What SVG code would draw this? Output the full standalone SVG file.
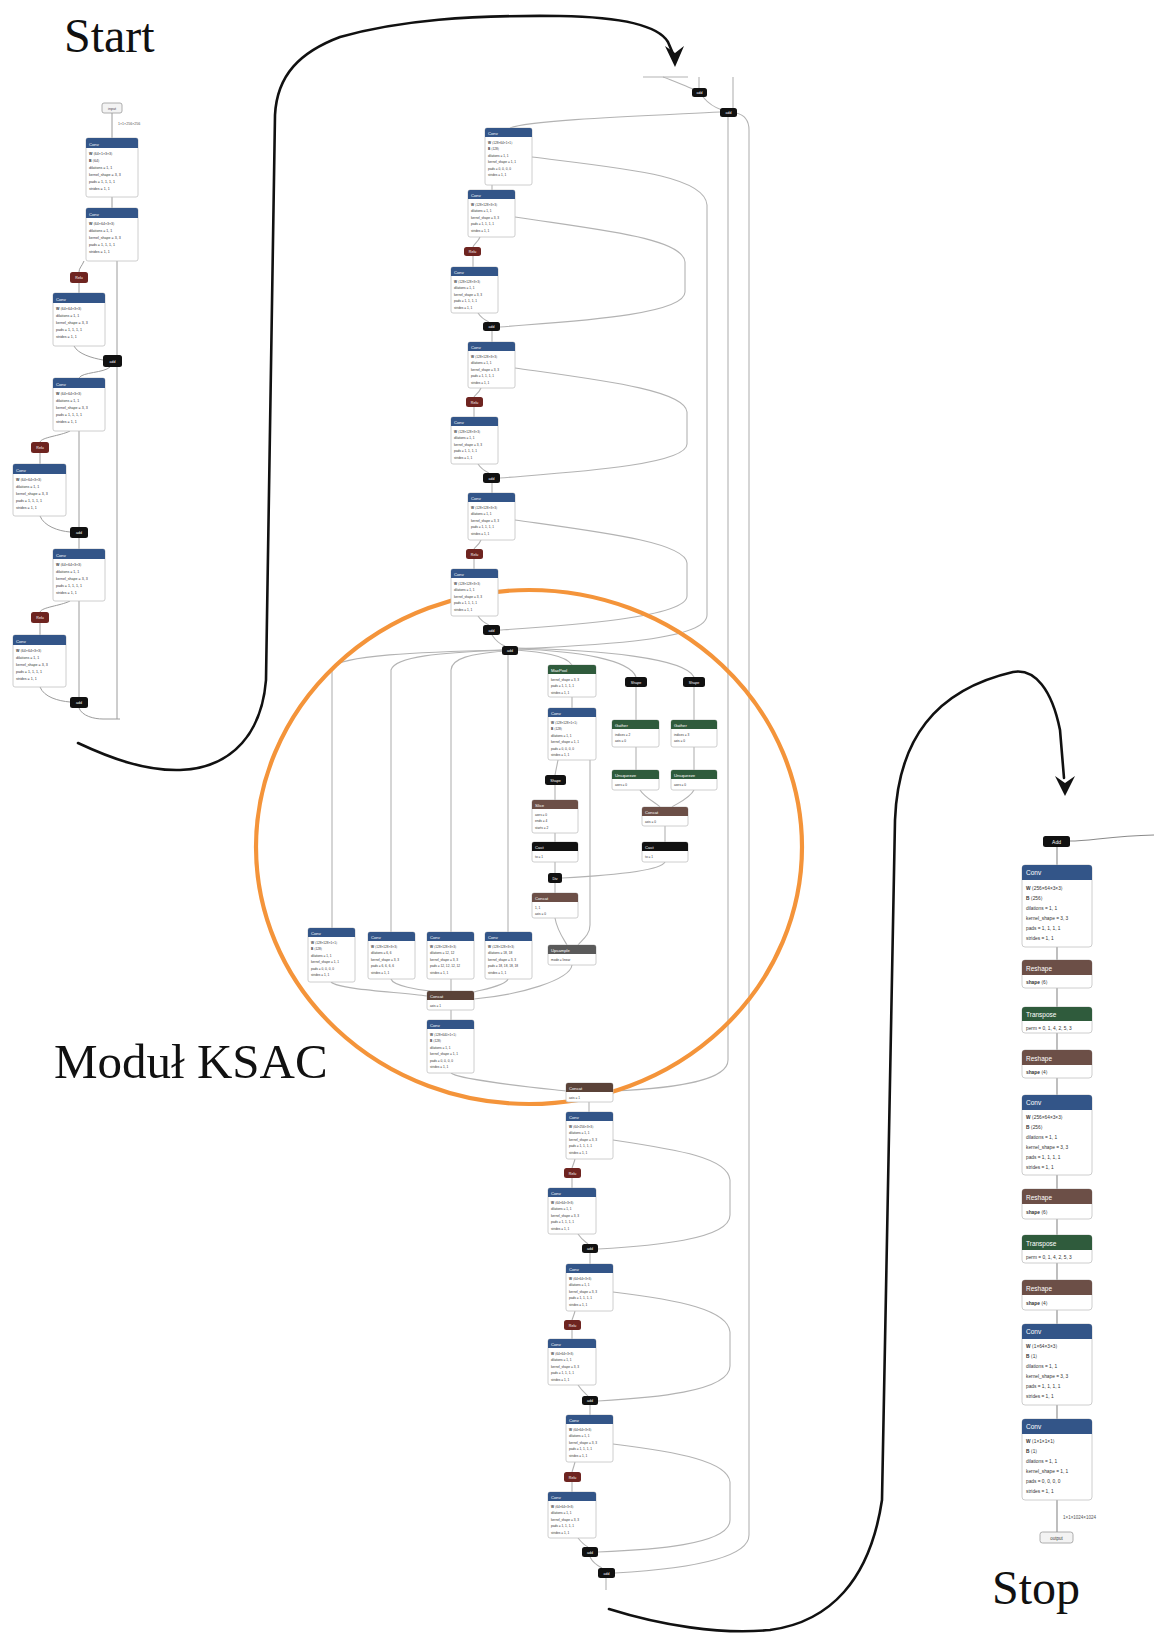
<svg xmlns="http://www.w3.org/2000/svg" width="1154" height="1633" viewBox="0 0 1154 1633">
<style>
.e{fill:none;stroke:#b3b3b3;stroke-width:1.1}
.eL{fill:none;stroke:#9c9c9c;stroke-width:1}
.eR{fill:none;stroke:#8a8a8a;stroke-width:1.1}
.bd{fill:#fff;stroke:#c2c2c2;stroke-width:.8}
.in{fill:#f3f3f3;stroke:#9a9a9a;stroke-width:.8}
.L{fill:#335588}.A{fill:#6e2420}.S{fill:#6c4f47}.T{fill:#2f5b3c}.D{fill:#111}.G{fill:#5a5a5a}.K{fill:#5a4238}
text{font-family:"Liberation Sans","DejaVu Sans",Arial,sans-serif}
.h{font-size:4.2px;fill:#fff}
.hc{font-size:3.6px;fill:#fff;text-anchor:middle}
.ct{font-size:3.6px;fill:#444;text-anchor:middle}
.b{font-size:3.2px;fill:#333}
.bL{font-size:3.6px;fill:#333}
.hR{font-size:6.5px;fill:#fff}
.bR{font-size:4.8px;fill:#333}
.el{font-size:3.6px;fill:#555}
.w{font-weight:bold}
.big{font-family:"Liberation Serif","Times New Roman",serif;font-size:48px;fill:#111}
.arr{fill:none;stroke:#111;stroke-width:2.6;stroke-linecap:round}
</style>

<!-- big labels -->
<text class="big" x="64" y="52">Start</text>
<text class="big" x="54" y="1078" style="font-size:49px">Moduł KSAC</text>
<text class="big" x="992" y="1604">Stop</text>

<!-- connectors -->
<g id="connectors">
<g class="eL">
<path d="M112,113V138"/>
<path d="M112,197V208"/>
<path d="M84,261C82,266 79,268 79,272"/>
<path d="M79,283V293"/>
<path d="M74,346C78,354 92,358 103,360"/>
<path d="M117,261V355"/>
<path d="M110,367C104,373 82,372 79,378"/>
<path d="M117,367V719"/>
<path d="M70,431C60,436 42,437 40,442"/>
<path d="M40,453V464"/>
<path d="M40,516C44,526 58,531 70,532"/>
<path d="M79,431V527"/>
<path d="M79,538V549"/>
<path d="M70,601C60,606 42,607 40,612"/>
<path d="M40,623V635"/>
<path d="M40,687C44,697 58,701 70,702"/>
<path d="M79,601V697"/>
<path d="M79,708C82,716 94,719 103,719H120"/>
</g>
<g class="e">
<path d="M643,77H688"/>
<path d="M663,77C672,80 685,86 693,89"/>
<path d="M699,77V88"/>
<path d="M733,77V108"/>
<path d="M703,97C708,103 716,108 722,110"/>
<path d="M720,112C640,116 530,120 510,128"/>
<path d="M728,117V1060C728,1080 680,1088 613,1091"/>
<path d="M736,113C745,115 749,120 749,130V1535C749,1556 700,1568 615,1573"/>
<path d="M532,157C620,168 705,175 707,205V615C707,640 600,645 518,649"/>
<path d="M492,185V190"/>
<path d="M480,237C478,242 474,244 473,247"/>
<path d="M473,256V267"/>
<path d="M478,313C482,319 487,321 489,322"/>
<path d="M515,217C600,230 683,238 685,262V292C685,316 560,322 500,327"/>
<path d="M492,331V342"/>
<path d="M481,388C479,393 475,395 474,397"/>
<path d="M474,407V417"/>
<path d="M478,464C482,470 487,472 489,473"/>
<path d="M515,368C600,380 685,390 687,412V444C687,466 560,473 500,478"/>
<path d="M492,483V493"/>
<path d="M481,540C479,545 475,547 474,549"/>
<path d="M474,559V569"/>
<path d="M478,616C482,622 487,624 489,625"/>
<path d="M515,520C600,532 685,542 687,563V596C687,618 560,626 500,630"/>
<path d="M492,635C496,641 502,645 505,646"/>
<path d="M503,650C420,652 340,655 332,668V928"/>
<path d="M504,650C440,653 395,656 391,670V932"/>
<path d="M505,651C470,654 452,658 451,670V932"/>
<path d="M508,655V932"/>
<path d="M516,650C540,652 566,655 572,665"/>
<path d="M517,649C580,651 630,660 636,677"/>
<path d="M517,648C600,650 685,658 694,677"/>
<path d="M572,697V708"/>
<path d="M558,760C557,765 556,770 555,775"/>
<path d="M555,785V800"/>
<path d="M555,833V842"/>
<path d="M555,862V873"/>
<path d="M555,883V893"/>
<path d="M555,918C557,930 563,938 567,945"/>
<path d="M590,760V925C590,935 582,940 578,945"/>
<path d="M636,687V720"/>
<path d="M694,687V720"/>
<path d="M636,747V770"/>
<path d="M694,747V770"/>
<path d="M640,790C645,798 655,802 660,807"/>
<path d="M694,790C690,798 678,803 672,807"/>
<path d="M665,826V842"/>
<path d="M665,862C660,872 600,876 562,878"/>
<path d="M331,982C340,990 400,992 427,996"/>
<path d="M391,979C393,986 420,990 430,991"/>
<path d="M451,979V991"/>
<path d="M508,979C506,986 480,990 474,992"/>
<path d="M572,965C570,980 520,995 474,999"/>
<path d="M451,1010V1020"/>
<path d="M451,1073C460,1080 530,1087 566,1091"/>
<path d="M589,1102V1112"/>
<path d="M575,1159C574,1163 573,1165 572,1168"/>
<path d="M572,1178V1188"/>
<path d="M578,1234C582,1240 586,1242 588,1244"/>
<path d="M613,1140C680,1150 728,1158 730,1180V1215C730,1240 650,1246 598,1249"/>
<path d="M590,1253V1264"/>
<path d="M575,1311C574,1315 573,1317 572,1320"/>
<path d="M572,1330V1339"/>
<path d="M578,1385C582,1391 586,1394 588,1396"/>
<path d="M613,1292C680,1300 728,1310 730,1332V1366C730,1392 650,1398 598,1401"/>
<path d="M590,1405V1415"/>
<path d="M575,1462C574,1466 573,1469 572,1472"/>
<path d="M572,1482V1492"/>
<path d="M578,1538C582,1543 586,1546 588,1547"/>
<path d="M613,1444C680,1452 728,1462 730,1482V1520C730,1545 650,1550 598,1552"/>
<path d="M590,1557C593,1563 598,1566 602,1568"/>
<path d="M606,1578V1590"/>
</g>
<g class="eR">
<path d="M1154,835C1110,836 1090,841 1070,841"/>
<path d="M1057,847V865M1057,947V960M1057,988V1007M1057,1033V1050M1057,1078V1095M1057,1175V1189M1057,1219V1235M1057,1263V1280M1057,1310V1324M1057,1405V1419M1057,1500V1532"/>
</g>
<!-- hand-drawn arrows -->
<path class="arr" d="M78,743C110,758 145,771 180,770C235,768 262,730 266,680L275,115C277,75 300,52 340,37C400,20 470,15 560,16C620,17 658,25 668,42L674,56"/>
<polygon points="665,46 675,67 684,46 675,53" fill="#111"/>
<path class="arr" d="M609,1609C660,1625 720,1635 770,1630C830,1622 870,1580 882,1500L895,820C898,740 935,690 1013,672C1035,668 1052,690 1060,730L1064,778"/>
<polygon points="1055,776 1065,796 1075,776 1065,783" fill="#111"/>
</g>

<!-- orange KSAC ellipse -->
<ellipse cx="529" cy="847" rx="273" ry="257" fill="none" stroke="#f4943a" stroke-width="4.2"/>

<!-- ===== left column ===== -->
<g id="n-input"><rect class="in" x="102" y="103" width="20" height="10" rx="2"/><text class="ct" x="112" y="109.5">input</text></g>
<text class="el" x="118" y="125">1×1×256×256</text>
<g id="l-conv1"><rect class="bd" x="86" y="138" width="52" height="59" rx="2"/><path class="L" d="M86,148V140a2,2 0 0 1 2-2h48a2,2 0 0 1 2,2V148z"/><text class="h" x="89" y="145.5">Conv</text>
<text class="bL"><tspan x="89" y="155"><tspan class="w">W</tspan> ⟨64×1×3×3⟩</tspan><tspan x="89" y="162"><tspan class="w">B</tspan> ⟨64⟩</tspan><tspan x="89" y="169">dilations = 1, 1</tspan><tspan x="89" y="176">kernel_shape = 3, 3</tspan><tspan x="89" y="183">pads = 1, 1, 1, 1</tspan><tspan x="89" y="190">strides = 1, 1</tspan></text></g>
<g id="l-conv2"><rect class="bd" x="86" y="208" width="52" height="53" rx="2"/><path class="L" d="M86,218V210a2,2 0 0 1 2-2h48a2,2 0 0 1 2,2V218z"/><text class="h" x="89" y="215.5">Conv</text>
<text class="bL"><tspan x="89" y="225"><tspan class="w">W</tspan> ⟨64×64×3×3⟩</tspan><tspan x="89" y="232">dilations = 1, 1</tspan><tspan x="89" y="239">kernel_shape = 3, 3</tspan><tspan x="89" y="246">pads = 1, 1, 1, 1</tspan><tspan x="89" y="253">strides = 1, 1</tspan></text></g>
<g id="l-relu1"><rect class="A" x="70" y="272" width="18" height="11" rx="2.5"/><text class="hc" x="79" y="279">Relu</text></g>
<g id="l-conv3"><rect class="bd" x="53" y="293" width="52" height="53" rx="2"/><path class="L" d="M53,303V295a2,2 0 0 1 2-2h48a2,2 0 0 1 2,2V303z"/><text class="h" x="56" y="300.5">Conv</text>
<text class="bL"><tspan x="56" y="310"><tspan class="w">W</tspan> ⟨64×64×3×3⟩</tspan><tspan x="56" y="317">dilations = 1, 1</tspan><tspan x="56" y="324">kernel_shape = 3, 3</tspan><tspan x="56" y="331">pads = 1, 1, 1, 1</tspan><tspan x="56" y="338">strides = 1, 1</tspan></text></g>
<g id="l-add1"><rect class="D" x="103" y="355" width="19" height="12" rx="2.5"/><text class="hc" x="112.5" y="362.5">add</text></g>
<g id="l-conv4"><rect class="bd" x="53" y="378" width="52" height="53" rx="2"/><path class="L" d="M53,388V380a2,2 0 0 1 2-2h48a2,2 0 0 1 2,2V388z"/><text class="h" x="56" y="385.5">Conv</text>
<text class="bL"><tspan x="56" y="395"><tspan class="w">W</tspan> ⟨64×64×3×3⟩</tspan><tspan x="56" y="402">dilations = 1, 1</tspan><tspan x="56" y="409">kernel_shape = 3, 3</tspan><tspan x="56" y="416">pads = 1, 1, 1, 1</tspan><tspan x="56" y="423">strides = 1, 1</tspan></text></g>
<g id="l-relu2"><rect class="A" x="31" y="442" width="18" height="11" rx="2.5"/><text class="hc" x="40" y="449">Relu</text></g>
<g id="l-conv5"><rect class="bd" x="13" y="464" width="53" height="52" rx="2"/><path class="L" d="M13,474V466a2,2 0 0 1 2-2h49a2,2 0 0 1 2,2V474z"/><text class="h" x="16" y="471.5">Conv</text>
<text class="bL"><tspan x="16" y="481"><tspan class="w">W</tspan> ⟨64×64×3×3⟩</tspan><tspan x="16" y="488">dilations = 1, 1</tspan><tspan x="16" y="495">kernel_shape = 3, 3</tspan><tspan x="16" y="502">pads = 1, 1, 1, 1</tspan><tspan x="16" y="509">strides = 1, 1</tspan></text></g>
<g id="l-add2"><rect class="D" x="70" y="527" width="18" height="11" rx="2.5"/><text class="hc" x="79" y="534">add</text></g>
<g id="l-conv6"><rect class="bd" x="53" y="549" width="52" height="52" rx="2"/><path class="L" d="M53,559V551a2,2 0 0 1 2-2h48a2,2 0 0 1 2,2V559z"/><text class="h" x="56" y="556.5">Conv</text>
<text class="bL"><tspan x="56" y="566"><tspan class="w">W</tspan> ⟨64×64×3×3⟩</tspan><tspan x="56" y="573">dilations = 1, 1</tspan><tspan x="56" y="580">kernel_shape = 3, 3</tspan><tspan x="56" y="587">pads = 1, 1, 1, 1</tspan><tspan x="56" y="594">strides = 1, 1</tspan></text></g>
<g id="l-relu3"><rect class="A" x="31" y="612" width="18" height="11" rx="2.5"/><text class="hc" x="40" y="619">Relu</text></g>
<g id="l-conv7"><rect class="bd" x="13" y="635" width="53" height="52" rx="2"/><path class="L" d="M13,645V637a2,2 0 0 1 2-2h49a2,2 0 0 1 2,2V645z"/><text class="h" x="16" y="642.5">Conv</text>
<text class="bL"><tspan x="16" y="652"><tspan class="w">W</tspan> ⟨64×64×3×3⟩</tspan><tspan x="16" y="659">dilations = 1, 1</tspan><tspan x="16" y="666">kernel_shape = 3, 3</tspan><tspan x="16" y="673">pads = 1, 1, 1, 1</tspan><tspan x="16" y="680">strides = 1, 1</tspan></text></g>
<g id="l-add3"><rect class="D" x="70" y="697" width="18" height="11" rx="2.5"/><text class="hc" x="79" y="704">add</text></g>

<!-- ===== middle column, upper ===== -->
<g id="m-add0"><rect class="D" x="692" y="88" width="15" height="9" rx="2.5"/><text class="hc" x="699.5" y="94">add</text></g>
<g id="m-add1"><rect class="D" x="720" y="108" width="17" height="9" rx="2.5"/><text class="hc" x="728.5" y="114">add</text></g>
<g id="m-convA"><rect class="bd" x="485" y="128" width="47" height="57" rx="2"/><path class="L" d="M485,137V130a2,2 0 0 1 2-2h43a2,2 0 0 1 2,2V137z"/><text class="h" x="488" y="134.5">Conv</text>
<text class="b"><tspan x="488" y="143.5"><tspan class="w">W</tspan> ⟨128×64×1×1⟩</tspan><tspan x="488" y="150"><tspan class="w">B</tspan> ⟨128⟩</tspan><tspan x="488" y="156.5">dilations = 1, 1</tspan><tspan x="488" y="163">kernel_shape = 1, 1</tspan><tspan x="488" y="169.5">pads = 0, 0, 0, 0</tspan><tspan x="488" y="176">strides = 1, 1</tspan></text></g>
<g id="m-convB"><rect class="bd" x="468" y="190" width="47" height="47" rx="2"/><path class="L" d="M468,199V192a2,2 0 0 1 2-2h43a2,2 0 0 1 2,2V199z"/><text class="h" x="471" y="196.5">Conv</text>
<text class="b"><tspan x="471" y="205.5"><tspan class="w">W</tspan> ⟨128×128×3×3⟩</tspan><tspan x="471" y="212">dilations = 1, 1</tspan><tspan x="471" y="218.5">kernel_shape = 3, 3</tspan><tspan x="471" y="225">pads = 1, 1, 1, 1</tspan><tspan x="471" y="231.5">strides = 1, 1</tspan></text></g>
<g id="m-relu1"><rect class="A" x="464" y="247" width="17" height="9" rx="2.5"/><text class="hc" x="472.5" y="253">Relu</text></g>
<g id="m-convC"><rect class="bd" x="451" y="267" width="47" height="46" rx="2"/><path class="L" d="M451,276V269a2,2 0 0 1 2-2h43a2,2 0 0 1 2,2V276z"/><text class="h" x="454" y="273.5">Conv</text>
<text class="b"><tspan x="454" y="282.5"><tspan class="w">W</tspan> ⟨128×128×3×3⟩</tspan><tspan x="454" y="289">dilations = 1, 1</tspan><tspan x="454" y="295.5">kernel_shape = 3, 3</tspan><tspan x="454" y="302">pads = 1, 1, 1, 1</tspan><tspan x="454" y="308.5">strides = 1, 1</tspan></text></g>
<g id="m-add2"><rect class="D" x="483" y="322" width="17" height="9" rx="2.5"/><text class="hc" x="491.5" y="328">add</text></g>
<g id="m-convD"><rect class="bd" x="468" y="342" width="47" height="46" rx="2"/><path class="L" d="M468,351V344a2,2 0 0 1 2-2h43a2,2 0 0 1 2,2V351z"/><text class="h" x="471" y="348.5">Conv</text>
<text class="b"><tspan x="471" y="357.5"><tspan class="w">W</tspan> ⟨128×128×3×3⟩</tspan><tspan x="471" y="364">dilations = 1, 1</tspan><tspan x="471" y="370.5">kernel_shape = 3, 3</tspan><tspan x="471" y="377">pads = 1, 1, 1, 1</tspan><tspan x="471" y="383.5">strides = 1, 1</tspan></text></g>
<g id="m-relu2"><rect class="A" x="466" y="397" width="17" height="10" rx="2.5"/><text class="hc" x="474.5" y="403.5">Relu</text></g>
<g id="m-convE"><rect class="bd" x="451" y="417" width="47" height="47" rx="2"/><path class="L" d="M451,426V419a2,2 0 0 1 2-2h43a2,2 0 0 1 2,2V426z"/><text class="h" x="454" y="423.5">Conv</text>
<text class="b"><tspan x="454" y="432.5"><tspan class="w">W</tspan> ⟨128×128×3×3⟩</tspan><tspan x="454" y="439">dilations = 1, 1</tspan><tspan x="454" y="445.5">kernel_shape = 3, 3</tspan><tspan x="454" y="452">pads = 1, 1, 1, 1</tspan><tspan x="454" y="458.5">strides = 1, 1</tspan></text></g>
<g id="m-add3"><rect class="D" x="483" y="473" width="17" height="10" rx="2.5"/><text class="hc" x="491.5" y="479.5">add</text></g>
<g id="m-convF"><rect class="bd" x="468" y="493" width="47" height="47" rx="2"/><path class="L" d="M468,502V495a2,2 0 0 1 2-2h43a2,2 0 0 1 2,2V502z"/><text class="h" x="471" y="499.5">Conv</text>
<text class="b"><tspan x="471" y="508.5"><tspan class="w">W</tspan> ⟨128×128×3×3⟩</tspan><tspan x="471" y="515">dilations = 1, 1</tspan><tspan x="471" y="521.5">kernel_shape = 3, 3</tspan><tspan x="471" y="528">pads = 1, 1, 1, 1</tspan><tspan x="471" y="534.5">strides = 1, 1</tspan></text></g>
<g id="m-relu3"><rect class="A" x="466" y="549" width="17" height="10" rx="2.5"/><text class="hc" x="474.5" y="555.5">Relu</text></g>
<g id="m-convG"><rect class="bd" x="451" y="569" width="47" height="47" rx="2"/><path class="L" d="M451,578V571a2,2 0 0 1 2-2h43a2,2 0 0 1 2,2V578z"/><text class="h" x="454" y="575.5">Conv</text>
<text class="b"><tspan x="454" y="584.5"><tspan class="w">W</tspan> ⟨128×128×3×3⟩</tspan><tspan x="454" y="591">dilations = 1, 1</tspan><tspan x="454" y="597.5">kernel_shape = 3, 3</tspan><tspan x="454" y="604">pads = 1, 1, 1, 1</tspan><tspan x="454" y="610.5">strides = 1, 1</tspan></text></g>
<g id="m-add4"><rect class="D" x="483" y="625" width="17" height="10" rx="2.5"/><text class="hc" x="491.5" y="631.5">add</text></g>
<g id="m-add5"><rect class="D" x="502" y="646" width="16" height="9" rx="2.5"/><text class="hc" x="510" y="652">add</text></g>

<!-- ===== KSAC module ===== -->
<g id="k-maxpool"><rect class="bd" x="548" y="665" width="48" height="32" rx="2"/><path class="T" d="M548,674V667a2,2 0 0 1 2-2h44a2,2 0 0 1 2,2V674z"/><text class="h" x="551" y="671.5">MaxPool</text>
<text class="b"><tspan x="551" y="680.5">kernel_shape = 3, 3</tspan><tspan x="551" y="687">pads = 1, 1, 1, 1</tspan><tspan x="551" y="693.5">strides = 1, 1</tspan></text></g>
<g id="k-convbr"><rect class="bd" x="548" y="708" width="48" height="52" rx="2"/><path class="L" d="M548,717V710a2,2 0 0 1 2-2h44a2,2 0 0 1 2,2V717z"/><text class="h" x="551" y="714.5">Conv</text>
<text class="b"><tspan x="551" y="723.5"><tspan class="w">W</tspan> ⟨128×128×1×1⟩</tspan><tspan x="551" y="730"><tspan class="w">B</tspan> ⟨128⟩</tspan><tspan x="551" y="736.5">dilations = 1, 1</tspan><tspan x="551" y="743">kernel_shape = 1, 1</tspan><tspan x="551" y="749.5">pads = 0, 0, 0, 0</tspan><tspan x="551" y="756">strides = 1, 1</tspan></text></g>
<g id="k-shape0"><rect class="D" x="545" y="775" width="21" height="10" rx="2.5"/><text class="hc" x="555.5" y="781.5">Shape</text></g>
<g id="k-slice"><rect class="bd" x="532" y="800" width="46" height="33" rx="2"/><path class="S" d="M532,809V802a2,2 0 0 1 2-2h42a2,2 0 0 1 2,2V809z"/><text class="h" x="535" y="806.5">Slice</text>
<text class="b"><tspan x="535" y="815.5">axes = 0</tspan><tspan x="535" y="822">ends = 4</tspan><tspan x="535" y="828.5">starts = 2</tspan></text></g>
<g id="k-cast0"><rect class="bd" x="532" y="842" width="46" height="20" rx="2"/><path class="D" d="M532,851V844a2,2 0 0 1 2-2h42a2,2 0 0 1 2,2V851z"/><text class="h" x="535" y="848.5">Cast</text>
<text class="b"><tspan x="535" y="858">to = 1</tspan></text></g>
<g id="k-div"><rect class="D" x="548" y="873" width="14" height="10" rx="2.5"/><text class="hc" x="555" y="879.5">Div</text></g>
<g id="k-unsq0"><rect class="bd" x="532" y="893" width="46" height="25" rx="2"/><path class="S" d="M532,902V895a2,2 0 0 1 2-2h42a2,2 0 0 1 2,2V902z"/><text class="h" x="535" y="899.5">Concat</text>
<text class="b"><tspan x="535" y="908.5">1, 1</tspan><tspan x="535" y="915">axis = 0</tspan></text></g>
<g id="k-upsample"><rect class="bd" x="548" y="945" width="48" height="20" rx="2"/><path class="G" d="M548,954V947a2,2 0 0 1 2-2h44a2,2 0 0 1 2,2V954z"/><text class="h" x="551" y="951.5">Upsample</text>
<text class="b"><tspan x="551" y="961">mode = linear</tspan></text></g>
<g id="k-shape1"><rect class="D" x="625" y="677" width="22" height="10" rx="2.5"/><text class="hc" x="636" y="683.5">Shape</text></g>
<g id="k-shape2"><rect class="D" x="683" y="677" width="22" height="10" rx="2.5"/><text class="hc" x="694" y="683.5">Shape</text></g>
<g id="k-gather1"><rect class="bd" x="612" y="720" width="47" height="27" rx="2"/><path class="T" d="M612,729V722a2,2 0 0 1 2-2h43a2,2 0 0 1 2,2V729z"/><text class="h" x="615" y="726.5">Gather</text>
<text class="b"><tspan x="615" y="735.5">indices = 2</tspan><tspan x="615" y="742">axis = 0</tspan></text></g>
<g id="k-gather2"><rect class="bd" x="671" y="720" width="46" height="27" rx="2"/><path class="T" d="M671,729V722a2,2 0 0 1 2-2h42a2,2 0 0 1 2,2V729z"/><text class="h" x="674" y="726.5">Gather</text>
<text class="b"><tspan x="674" y="735.5">indices = 3</tspan><tspan x="674" y="742">axis = 0</tspan></text></g>
<g id="k-unsq1"><rect class="bd" x="612" y="770" width="47" height="20" rx="2"/><path class="T" d="M612,779V772a2,2 0 0 1 2-2h43a2,2 0 0 1 2,2V779z"/><text class="h" x="615" y="776.5">Unsqueeze</text>
<text class="b"><tspan x="615" y="786">axes = 0</tspan></text></g>
<g id="k-unsq2"><rect class="bd" x="671" y="770" width="46" height="20" rx="2"/><path class="T" d="M671,779V772a2,2 0 0 1 2-2h42a2,2 0 0 1 2,2V779z"/><text class="h" x="674" y="776.5">Unsqueeze</text>
<text class="b"><tspan x="674" y="786">axes = 0</tspan></text></g>
<g id="k-concat0"><rect class="bd" x="642" y="807" width="46" height="19" rx="2"/><path class="S" d="M642,816V809a2,2 0 0 1 2-2h42a2,2 0 0 1 2,2V816z"/><text class="h" x="645" y="813.5">Concat</text>
<text class="b"><tspan x="645" y="822.5">axis = 0</tspan></text></g>
<g id="k-cast1"><rect class="bd" x="642" y="842" width="46" height="20" rx="2"/><path class="D" d="M642,851V844a2,2 0 0 1 2-2h42a2,2 0 0 1 2,2V851z"/><text class="h" x="645" y="848.5">Cast</text>
<text class="b"><tspan x="645" y="858">to = 1</tspan></text></g>
<g id="k-conv1"><rect class="bd" x="308" y="928" width="47" height="54" rx="2"/><path class="L" d="M308,937V930a2,2 0 0 1 2-2h43a2,2 0 0 1 2,2V937z"/><text class="h" x="311" y="934.5">Conv</text>
<text class="b"><tspan x="311" y="943.5"><tspan class="w">W</tspan> ⟨128×128×1×1⟩</tspan><tspan x="311" y="950"><tspan class="w">B</tspan> ⟨128⟩</tspan><tspan x="311" y="956.5">dilations = 1, 1</tspan><tspan x="311" y="963">kernel_shape = 1, 1</tspan><tspan x="311" y="969.5">pads = 0, 0, 0, 0</tspan><tspan x="311" y="976">strides = 1, 1</tspan></text></g>
<g id="k-conv2"><rect class="bd" x="368" y="932" width="47" height="47" rx="2"/><path class="L" d="M368,941V934a2,2 0 0 1 2-2h43a2,2 0 0 1 2,2V941z"/><text class="h" x="371" y="938.5">Conv</text>
<text class="b"><tspan x="371" y="947.5"><tspan class="w">W</tspan> ⟨128×128×3×3⟩</tspan><tspan x="371" y="954">dilations = 6, 6</tspan><tspan x="371" y="960.5">kernel_shape = 3, 3</tspan><tspan x="371" y="967">pads = 6, 6, 6, 6</tspan><tspan x="371" y="973.5">strides = 1, 1</tspan></text></g>
<g id="k-conv3"><rect class="bd" x="427" y="932" width="47" height="47" rx="2"/><path class="L" d="M427,941V934a2,2 0 0 1 2-2h43a2,2 0 0 1 2,2V941z"/><text class="h" x="430" y="938.5">Conv</text>
<text class="b"><tspan x="430" y="947.5"><tspan class="w">W</tspan> ⟨128×128×3×3⟩</tspan><tspan x="430" y="954">dilations = 12, 12</tspan><tspan x="430" y="960.5">kernel_shape = 3, 3</tspan><tspan x="430" y="967">pads = 12, 12, 12, 12</tspan><tspan x="430" y="973.5">strides = 1, 1</tspan></text></g>
<g id="k-conv4"><rect class="bd" x="485" y="932" width="47" height="47" rx="2"/><path class="L" d="M485,941V934a2,2 0 0 1 2-2h43a2,2 0 0 1 2,2V941z"/><text class="h" x="488" y="938.5">Conv</text>
<text class="b"><tspan x="488" y="947.5"><tspan class="w">W</tspan> ⟨128×128×3×3⟩</tspan><tspan x="488" y="954">dilations = 18, 18</tspan><tspan x="488" y="960.5">kernel_shape = 3, 3</tspan><tspan x="488" y="967">pads = 18, 18, 18, 18</tspan><tspan x="488" y="973.5">strides = 1, 1</tspan></text></g>
<g id="k-concat"><rect class="bd" x="427" y="991" width="47" height="19" rx="2"/><path class="K" d="M427,1000V993a2,2 0 0 1 2-2h43a2,2 0 0 1 2,2V1000z"/><text class="h" x="430" y="997.5">Concat</text>
<text class="b"><tspan x="430" y="1006.5">axis = 1</tspan></text></g>
<g id="k-convout"><rect class="bd" x="427" y="1020" width="47" height="53" rx="2"/><path class="L" d="M427,1029V1022a2,2 0 0 1 2-2h43a2,2 0 0 1 2,2V1029z"/><text class="h" x="430" y="1026.5">Conv</text>
<text class="b"><tspan x="430" y="1035.5"><tspan class="w">W</tspan> ⟨128×640×1×1⟩</tspan><tspan x="430" y="1042"><tspan class="w">B</tspan> ⟨128⟩</tspan><tspan x="430" y="1048.5">dilations = 1, 1</tspan><tspan x="430" y="1055">kernel_shape = 1, 1</tspan><tspan x="430" y="1061.5">pads = 0, 0, 0, 0</tspan><tspan x="430" y="1068">strides = 1, 1</tspan></text></g>

<!-- ===== middle column, lower ===== -->
<g id="d-concat"><rect class="bd" x="566" y="1083" width="47" height="19" rx="2"/><path class="K" d="M566,1092V1085a2,2 0 0 1 2-2h43a2,2 0 0 1 2,2V1092z"/><text class="h" x="569" y="1089.5">Concat</text>
<text class="b"><tspan x="569" y="1098.5">axis = 1</tspan></text></g>
<g id="d-conva"><rect class="bd" x="566" y="1112" width="47" height="47" rx="2"/><path class="L" d="M566,1121V1114a2,2 0 0 1 2-2h43a2,2 0 0 1 2,2V1121z"/><text class="h" x="569" y="1118.5">Conv</text>
<text class="b"><tspan x="569" y="1127.5"><tspan class="w">W</tspan> ⟨64×256×3×3⟩</tspan><tspan x="569" y="1134">dilations = 1, 1</tspan><tspan x="569" y="1140.5">kernel_shape = 3, 3</tspan><tspan x="569" y="1147">pads = 1, 1, 1, 1</tspan><tspan x="569" y="1153.5">strides = 1, 1</tspan></text></g>
<g id="d-relu1"><rect class="A" x="564" y="1168" width="17" height="10" rx="2.5"/><text class="hc" x="572.5" y="1174.5">Relu</text></g>
<g id="d-convb"><rect class="bd" x="548" y="1188" width="48" height="46" rx="2"/><path class="L" d="M548,1197V1190a2,2 0 0 1 2-2h44a2,2 0 0 1 2,2V1197z"/><text class="h" x="551" y="1194.5">Conv</text>
<text class="b"><tspan x="551" y="1203.5"><tspan class="w">W</tspan> ⟨64×64×3×3⟩</tspan><tspan x="551" y="1210">dilations = 1, 1</tspan><tspan x="551" y="1216.5">kernel_shape = 3, 3</tspan><tspan x="551" y="1223">pads = 1, 1, 1, 1</tspan><tspan x="551" y="1229.5">strides = 1, 1</tspan></text></g>
<g id="d-add1"><rect class="D" x="582" y="1244" width="16" height="9" rx="2.5"/><text class="hc" x="590" y="1250">add</text></g>
<g id="d-convc"><rect class="bd" x="566" y="1264" width="47" height="47" rx="2"/><path class="L" d="M566,1273V1266a2,2 0 0 1 2-2h43a2,2 0 0 1 2,2V1273z"/><text class="h" x="569" y="1270.5">Conv</text>
<text class="b"><tspan x="569" y="1279.5"><tspan class="w">W</tspan> ⟨64×64×3×3⟩</tspan><tspan x="569" y="1286">dilations = 1, 1</tspan><tspan x="569" y="1292.5">kernel_shape = 3, 3</tspan><tspan x="569" y="1299">pads = 1, 1, 1, 1</tspan><tspan x="569" y="1305.5">strides = 1, 1</tspan></text></g>
<g id="d-relu2"><rect class="A" x="564" y="1320" width="17" height="10" rx="2.5"/><text class="hc" x="572.5" y="1326.5">Relu</text></g>
<g id="d-convd"><rect class="bd" x="548" y="1339" width="48" height="46" rx="2"/><path class="L" d="M548,1348V1341a2,2 0 0 1 2-2h44a2,2 0 0 1 2,2V1348z"/><text class="h" x="551" y="1345.5">Conv</text>
<text class="b"><tspan x="551" y="1354.5"><tspan class="w">W</tspan> ⟨64×64×3×3⟩</tspan><tspan x="551" y="1361">dilations = 1, 1</tspan><tspan x="551" y="1367.5">kernel_shape = 3, 3</tspan><tspan x="551" y="1374">pads = 1, 1, 1, 1</tspan><tspan x="551" y="1380.5">strides = 1, 1</tspan></text></g>
<g id="d-add2"><rect class="D" x="582" y="1396" width="16" height="9" rx="2.5"/><text class="hc" x="590" y="1402">add</text></g>
<g id="d-conve"><rect class="bd" x="566" y="1415" width="47" height="47" rx="2"/><path class="L" d="M566,1424V1417a2,2 0 0 1 2-2h43a2,2 0 0 1 2,2V1424z"/><text class="h" x="569" y="1421.5">Conv</text>
<text class="b"><tspan x="569" y="1430.5"><tspan class="w">W</tspan> ⟨64×64×3×3⟩</tspan><tspan x="569" y="1437">dilations = 1, 1</tspan><tspan x="569" y="1443.5">kernel_shape = 3, 3</tspan><tspan x="569" y="1450">pads = 1, 1, 1, 1</tspan><tspan x="569" y="1456.5">strides = 1, 1</tspan></text></g>
<g id="d-relu3"><rect class="A" x="564" y="1472" width="17" height="10" rx="2.5"/><text class="hc" x="572.5" y="1478.5">Relu</text></g>
<g id="d-convf"><rect class="bd" x="548" y="1492" width="48" height="46" rx="2"/><path class="L" d="M548,1501V1494a2,2 0 0 1 2-2h44a2,2 0 0 1 2,2V1501z"/><text class="h" x="551" y="1498.5">Conv</text>
<text class="b"><tspan x="551" y="1507.5"><tspan class="w">W</tspan> ⟨64×64×3×3⟩</tspan><tspan x="551" y="1514">dilations = 1, 1</tspan><tspan x="551" y="1520.5">kernel_shape = 3, 3</tspan><tspan x="551" y="1527">pads = 1, 1, 1, 1</tspan><tspan x="551" y="1533.5">strides = 1, 1</tspan></text></g>
<g id="d-add3"><rect class="D" x="582" y="1547" width="16" height="10" rx="2.5"/><text class="hc" x="590" y="1553.5">add</text></g>
<g id="d-add4"><rect class="D" x="598" y="1568" width="17" height="10" rx="2.5"/><text class="hc" x="606.5" y="1574.5">add</text></g>

<!-- ===== right column ===== -->
<g id="r-add"><rect class="D" x="1043" y="836" width="27" height="11" rx="2.5"/><text class="hc" x="1056.5" y="843.5" style="font-size:5px">Add</text></g>
<g id="r-conv1"><rect class="bd" x="1022" y="865" width="70" height="82" rx="3"/><path class="L" d="M1022,880V868a3,3 0 0 1 3-3h64a3,3 0 0 1 3,3V880z"/><text class="hR" x="1026" y="875">Conv</text>
<text class="bR"><tspan x="1026" y="890"><tspan class="w">W</tspan> ⟨256×64×3×3⟩</tspan><tspan x="1026" y="900"><tspan class="w">B</tspan> ⟨256⟩</tspan><tspan x="1026" y="910">dilations = 1, 1</tspan><tspan x="1026" y="920">kernel_shape = 3, 3</tspan><tspan x="1026" y="930">pads = 1, 1, 1, 1</tspan><tspan x="1026" y="940">strides = 1, 1</tspan></text></g>
<g id="r-reshape1"><rect class="bd" x="1022" y="960" width="70" height="28" rx="3"/><path class="S" d="M1022,975V963a3,3 0 0 1 3-3h64a3,3 0 0 1 3,3V975z"/><text class="hR" x="1026" y="970.5">Reshape</text>
<text class="bR"><tspan x="1026" y="984"><tspan class="w">shape</tspan> ⟨6⟩</tspan></text></g>
<g id="r-transpose1"><rect class="bd" x="1022" y="1007" width="70" height="26" rx="3"/><path class="T" d="M1022,1021V1010a3,3 0 0 1 3-3h64a3,3 0 0 1 3,3V1021z"/><text class="hR" x="1026" y="1016.5">Transpose</text>
<text class="bR"><tspan x="1026" y="1029.5">perm = 0, 1, 4, 2, 5, 3</tspan></text></g>
<g id="r-reshape2"><rect class="bd" x="1022" y="1050" width="70" height="28" rx="3"/><path class="S" d="M1022,1065V1053a3,3 0 0 1 3-3h64a3,3 0 0 1 3,3V1065z"/><text class="hR" x="1026" y="1060.5">Reshape</text>
<text class="bR"><tspan x="1026" y="1074"><tspan class="w">shape</tspan> ⟨4⟩</tspan></text></g>
<g id="r-conv2"><rect class="bd" x="1022" y="1095" width="70" height="80" rx="3"/><path class="L" d="M1022,1110V1098a3,3 0 0 1 3-3h64a3,3 0 0 1 3,3V1110z"/><text class="hR" x="1026" y="1105">Conv</text>
<text class="bR"><tspan x="1026" y="1119"><tspan class="w">W</tspan> ⟨256×64×3×3⟩</tspan><tspan x="1026" y="1129"><tspan class="w">B</tspan> ⟨256⟩</tspan><tspan x="1026" y="1139">dilations = 1, 1</tspan><tspan x="1026" y="1149">kernel_shape = 3, 3</tspan><tspan x="1026" y="1159">pads = 1, 1, 1, 1</tspan><tspan x="1026" y="1169">strides = 1, 1</tspan></text></g>
<g id="r-reshape3"><rect class="bd" x="1022" y="1189" width="70" height="30" rx="3"/><path class="S" d="M1022,1204V1192a3,3 0 0 1 3-3h64a3,3 0 0 1 3,3V1204z"/><text class="hR" x="1026" y="1199.5">Reshape</text>
<text class="bR"><tspan x="1026" y="1214"><tspan class="w">shape</tspan> ⟨6⟩</tspan></text></g>
<g id="r-transpose2"><rect class="bd" x="1022" y="1235" width="70" height="28" rx="3"/><path class="T" d="M1022,1250V1238a3,3 0 0 1 3-3h64a3,3 0 0 1 3,3V1250z"/><text class="hR" x="1026" y="1245.5">Transpose</text>
<text class="bR"><tspan x="1026" y="1259">perm = 0, 1, 4, 2, 5, 3</tspan></text></g>
<g id="r-reshape4"><rect class="bd" x="1022" y="1280" width="70" height="30" rx="3"/><path class="S" d="M1022,1295V1283a3,3 0 0 1 3-3h64a3,3 0 0 1 3,3V1295z"/><text class="hR" x="1026" y="1290.5">Reshape</text>
<text class="bR"><tspan x="1026" y="1305"><tspan class="w">shape</tspan> ⟨4⟩</tspan></text></g>
<g id="r-conv3"><rect class="bd" x="1022" y="1324" width="70" height="81" rx="3"/><path class="L" d="M1022,1339V1327a3,3 0 0 1 3-3h64a3,3 0 0 1 3,3V1339z"/><text class="hR" x="1026" y="1334">Conv</text>
<text class="bR"><tspan x="1026" y="1348"><tspan class="w">W</tspan> ⟨1×64×3×3⟩</tspan><tspan x="1026" y="1358"><tspan class="w">B</tspan> ⟨1⟩</tspan><tspan x="1026" y="1368">dilations = 1, 1</tspan><tspan x="1026" y="1378">kernel_shape = 3, 3</tspan><tspan x="1026" y="1388">pads = 1, 1, 1, 1</tspan><tspan x="1026" y="1398">strides = 1, 1</tspan></text></g>
<g id="r-conv4"><rect class="bd" x="1022" y="1419" width="70" height="81" rx="3"/><path class="L" d="M1022,1434V1422a3,3 0 0 1 3-3h64a3,3 0 0 1 3,3V1434z"/><text class="hR" x="1026" y="1429">Conv</text>
<text class="bR"><tspan x="1026" y="1443"><tspan class="w">W</tspan> ⟨1×1×1×1⟩</tspan><tspan x="1026" y="1453"><tspan class="w">B</tspan> ⟨1⟩</tspan><tspan x="1026" y="1463">dilations = 1, 1</tspan><tspan x="1026" y="1473">kernel_shape = 1, 1</tspan><tspan x="1026" y="1483">pads = 0, 0, 0, 0</tspan><tspan x="1026" y="1493">strides = 1, 1</tspan></text></g>
<text class="el" x="1063" y="1519" style="font-size:4.5px">1×1×1024×1024</text>
<g id="r-output"><rect class="in" x="1040" y="1532" width="33" height="11" rx="2.5"/><text class="ct" x="1056.5" y="1539.5" style="font-size:4.5px">output</text></g>
</svg>
